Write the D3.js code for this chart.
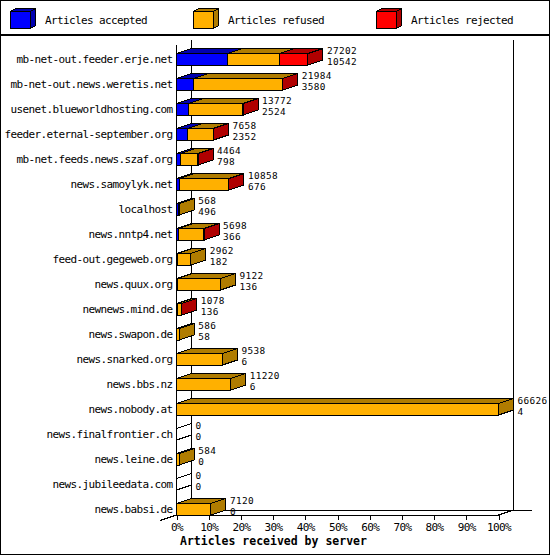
<!DOCTYPE html>
<html>
<head>
<meta charset="utf-8">
<script src="https://cdn.jsdelivr.net/npm/d3@7"></script>
<style>
  body { margin: 0; background: #fff; }
  svg text { font-family: "DejaVu Sans Mono", monospace; font-size: 11px; letter-spacing: -0.62px; fill: #000; }
  svg text.val { font-size: 9.4px; letter-spacing: 0.35px; }
</style>
</head>
<body>
<svg id="chart" width="550" height="555"></svg>
<script>
/* ===========================================================
   Articles received by server (3D stacked bars)
   =========================================================== */

const servers = [
  'mb-net-out.feeder.erje.net', 'mb-net-out.news.weretis.net', 'usenet.blueworldhosting.com',
  'feeder.eternal-september.org', 'mb-net.feeds.news.szaf.org', 'news.samoylyk.net',
  'localhost', 'news.nntp4.net', 'feed-out.gegeweb.org', 'news.quux.org',
  'newnews.mind.de', 'news.swapon.de', 'news.snarked.org', 'news.bbs.nz',
  'news.nobody.at', 'news.finalfrontier.ch', 'news.leine.de', 'news.jubileedata.com',
  'news.babsi.de'
];
const totals   = [27202, 21984, 13772, 7658, 4464, 10858, 568, 5698, 2962, 9122, 1078, 586, 9538, 11220, 66626, 0, 584, 0, 7120];
const accepted = [10542, 3580, 2524, 2352, 798, 676, 496, 366, 182, 136, 136, 58, 6, 6, 4, 0, 0, 0, 0];
const refused  = [10700, 18344, 11128, 5216, 3546, 10102, 72, 5272, 2780, 8986, 850, 528, 9532, 11214, 66622, 0, 584, 0, 7120];
const rejected = [5960, 60, 120, 90, 120, 80, 0, 60, 0, 0, 92, 0, 0, 0, 0, 0, 0, 0, 0];
const seriesNames = ['Articles accepted', 'Articles refused', 'Articles rejected'];
const pctTicks = [0, 10, 20, 30, 40, 50, 60, 70, 80, 90, 100];

const FRONT = ['#0000ff', '#ffb000', '#ff0000'];
const SIDE  = ['#0000b0', '#b07c00', '#b00000'];

const DX = 15, DY = 5;

const svg = d3.select('#chart');
svg.attr('shape-rendering', 'crispEdges');

// outer frame + legend separator
svg.append('rect').attr('x', 0.5).attr('y', 0.5).attr('width', 549).attr('height', 554)
  .attr('fill', 'none').attr('stroke', '#000');
svg.append('line').attr('x1', 0).attr('x2', 550).attr('y1', 35).attr('y2', 35)
  .attr('stroke', '#000').attr('stroke-width', 2);

// legend
const leg = svg.selectAll('.leg').data(seriesNames).enter().append('g')
  .attr('class', 'leg')
  .attr('transform', (d, i) => `translate(${10 + i * 183},0)`);
leg.append('polygon')
  .attr('points', '0.5,11.5 5.5,8.5 25.5,8.5 20.5,11.5')
  .attr('fill', (d, i) => SIDE[i]).attr('stroke', '#000');
leg.append('polygon')
  .attr('points', '20.5,11.5 25.5,8.5 25.5,25.5 20.5,28.5')
  .attr('fill', (d, i) => SIDE[i]).attr('stroke', '#000');
leg.append('rect').attr('x', 0.5).attr('y', 11.5).attr('width', 20).attr('height', 17)
  .attr('fill', (d, i) => FRONT[i]).attr('stroke', '#000');
leg.append('text').attr('x', 35).attr('y', 24).text(d => d);

// scales
const x = d3.scaleLinear().domain([0, d3.max(totals)]).range([176.5, 498.5]);
const pct = d3.scaleLinear().domain([0, 100]).range([176.5, 498.5]);
const y = d3.scaleBand().domain(servers).range([40.5, 515.5]);
const floorY = y.range()[1] - 0.5;

// back walls
const back = svg.append('g').attr('stroke', '#000').attr('fill', 'none');
back.append('line').attr('x1', pct(0) + DX).attr('x2', pct(0) + DX).attr('y1', 40).attr('y2', floorY - DY);
back.append('line').attr('x1', pct(100) + DX).attr('x2', pct(100) + DX).attr('y1', 40).attr('y2', floorY - DY);
back.append('line').attr('x1', pct(0) + DX).attr('x2', 532).attr('y1', floorY - DY).attr('y2', floorY - DY);
back.append('line').attr('x1', pct(0) + DX).attr('x2', 160).attr('y1', floorY - DY).attr('y2', floorY + 5.5);
back.append('line').attr('x1', pct(100)).attr('x2', pct(100) + DX).attr('y1', floorY).attr('y2', floorY - DY);

// front left axis
svg.append('line').attr('x1', pct(0)).attr('x2', pct(0)).attr('y1', 45).attr('y2', floorY)
  .attr('stroke', '#000');

// bars
const rows = svg.selectAll('.row').data(servers).enter().append('g').attr('class', 'row');
rows.each(function (s, i) {
  const g = d3.select(this);
  const top = y(s) + y.bandwidth() / 2 + 0.5;
  const bot = y(s) + y.bandwidth() - 0.5;
  const vals = [accepted[i], refused[i], rejected[i]];

  const box = (x0, x1, k) => {
    g.append('polygon')
      .attr('points', `${x0},${top} ${x0 + DX},${top - DY} ${x1 + DX},${top - DY} ${x1},${top}`)
      .attr('fill', k < 0 ? '#fff' : SIDE[k]).attr('stroke', '#000');
    g.append('polygon')
      .attr('points', `${x1},${top} ${x1 + DX},${top - DY} ${x1 + DX},${bot - DY} ${x1},${bot}`)
      .attr('fill', k < 0 ? '#fff' : SIDE[k]).attr('stroke', '#000');
    if (k >= 0) {
      g.append('rect').attr('x', x0).attr('y', top)
        .attr('width', Math.max(0, x1 - x0)).attr('height', bot - top)
        .attr('fill', FRONT[k]).attr('stroke', '#000');
    }
  };

  if (totals[i] === 0) {
    box(x(0), x(0), -1);
  } else {
    let cum = 0;
    vals.forEach((v, k) => {
      if (v > 0) box(x(cum), x(cum + v), k);
      cum += v;
    });
  }

  // category label
  g.append('text').attr('x', 172.5).attr('y', (top + bot) / 2 + 3.5)
    .attr('text-anchor', 'end').text(s);

  // value labels
  const lx = x(totals[i]) + DX + 4;
  g.append('text').attr('class', 'val').attr('x', lx).attr('y', top).text(totals[i]);
  g.append('text').attr('class', 'val').attr('x', lx).attr('y', top + 11).text(accepted[i]);
});

// percent axis (front floor)
const ax = svg.append('g').attr('transform', `translate(0,${floorY})`)
  .call(d3.axisBottom(pct).tickValues(pctTicks).tickFormat(d => d + '%').tickSize(5).tickSizeOuter(0));
ax.select('.domain').attr('stroke', '#000');
ax.selectAll('.tick line').attr('stroke', '#000');
ax.selectAll('.tick text')
  .attr('y', 16).attr('dy', 0)
  .attr('font-family', null).attr('font-size', null).attr('fill', '#000');

svg.append('text').attr('x', 180).attr('y', 545)
  .attr('font-weight', 'bold').style('font-size', '11.5px').style('letter-spacing', '0px')
  .text('Articles received by server');
</script>
</body>
</html>
